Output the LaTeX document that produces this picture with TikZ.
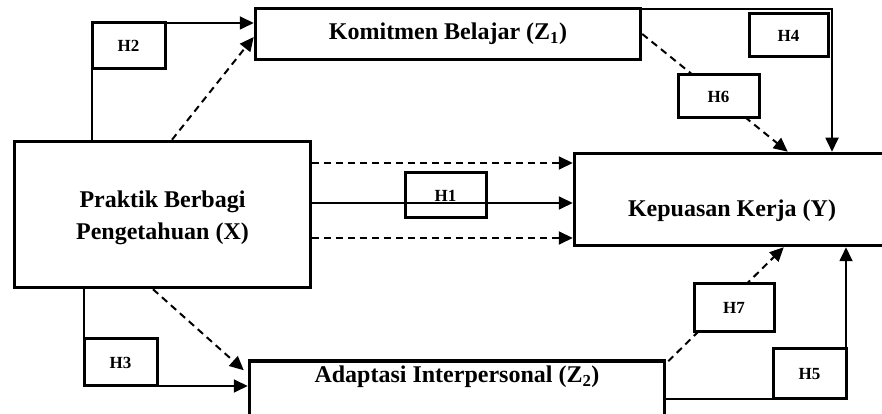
\documentclass[tikz,border=0pt]{standalone}
\usepackage{fontspec}
\setmainfont{Liberation Serif}
\usetikzlibrary{positioning, arrows.meta, calc, backgrounds}

\begin{document}
\begin{tikzpicture}[
    x=1pt, y=1pt,
    >={Triangle[length=14pt, width=13pt]},
    font=\fontsize{24}{32}\selectfont\bfseries,
    varbox/.style={rectangle, draw=black, line width=3.5pt, align=center, inner sep=0pt},
    hypbox/.style={rectangle, draw=black, line width=3pt, fill=white, outer sep=0pt, inner sep=0pt, font=\fontsize{17}{19}\selectfont\bfseries},
    link/.style={line width=1.8pt},
    medlink/.style={line width=2pt, dash pattern=on 7pt off 5pt}
]
    \useasboundingbox (0,0) rectangle (882,414);

    % variables
    \node[varbox, minimum width=296, minimum height=146] (x_box) at (162.5,199.5) {};
    \node[align=center] (x_txt) at (162.5,196) {Praktik Berbagi \\ Pengetahuan (X)};
    \node[varbox, minimum width=385, minimum height=51] (z1_box) at (448,380) {Komitmen Belajar (Z\textsubscript{1})};
    \node[varbox, minimum width=315, minimum height=92] (y_box) at (732,214.5) {};
    \node (y_txt) at (732,203) {Kepuasan Kerja (Y)};
    \node[varbox, minimum width=415, minimum height=64] (z2_box) at (457,21) {};
    \node (z2_txt) at (457,37) {Adaptasi Interpersonal (Z\textsubscript{2})};

    % hypotheses
    \node[hypbox, minimum width=73, minimum height=46] (h2) at (128.5,368) {H2};
    \node[hypbox, minimum width=79, minimum height=43] (h4) at (788.5,378.5) {H4};
    \node[hypbox, minimum width=81, minimum height=43] (h6) at (718.5,317.5) {H6};
    \node[hypbox, minimum width=81, minimum height=45] (h1) at (445.5,218.5) {H1};
    \node[hypbox, minimum width=73, minimum height=47] (h3) at (120.5,51.5) {H3};
    \node[hypbox, minimum width=80, minimum height=48] (h7) at (734,106) {H7};
    \node[hypbox, minimum width=73, minimum height=50] (h5) at (809.5,40) {H5};

    \coordinate (up_in) at ([yshift=36.5pt]y_box.west);
    \coordinate (mid_in) at ([yshift=-3.5pt]y_box.west);
    \coordinate (low_in) at ([yshift=-38.5pt]y_box.west);

    % direct paths
    \draw[link, ->] (h2.north west |- x_box.north) -- (h2.north west) -- (z1_box.west |- h2.north);
    \draw[link, ->] (h3.south west |- x_box.south) -- (h3.south west) -- (z2_box.west |- h3.south);
    \draw[link, ->] ([yshift=-2pt]z1_box.north east) -| ($(h4.east |- y_box.north)+(4,0)$);
    \draw[link, ->] (z2_box.east |- h5.south) -| (h5.east |- y_box.south);
    \draw[link, ->] (x_box.east |- mid_in) -- (mid_in);

    % mediated paths
    \draw[medlink, ->] ([xshift=9.5pt]x_box.north) -- ([yshift=-3pt]z1_box.west);
    \draw[medlink, ->] ([xshift=-9.5pt]x_box.south) -- ([xshift=-4pt,yshift=-11pt]z2_box.north west);
    \draw[medlink, ->] (x_box.east |- up_in) -- (up_in);
    \draw[medlink, ->] (x_box.east |- low_in) -- (low_in);
    \begin{scope}[on background layer]
        \draw[medlink, ->] (z1_box.east) -- ($(y_box.north west)+(215,0)$);
        \draw[medlink, ->] ([xshift=2pt,yshift=-2pt]z2_box.north east) -- ($(y_box.south west)+(211,0)$);
    \end{scope}
\end{tikzpicture}
\end{document}
